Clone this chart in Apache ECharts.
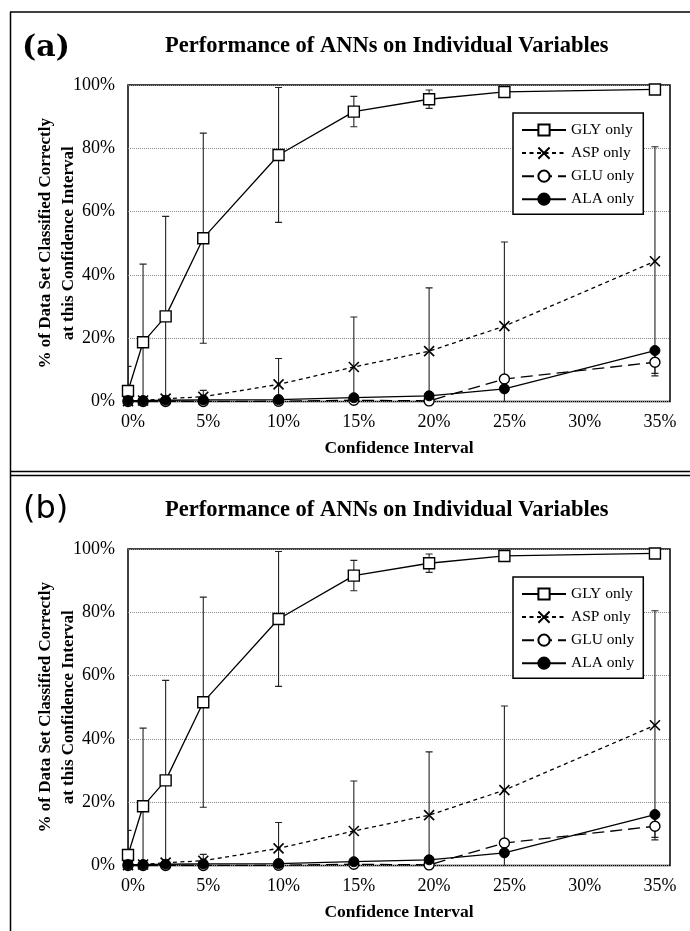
<!DOCTYPE html>
<html>
<head>
<meta charset="utf-8">
<script src="https://cdn.jsdelivr.net/npm/echarts@6/dist/echarts.min.js"></script>
<style>
  html, body { margin: 0; padding: 0; background: #fff; }
  #chart { width: 690px; height: 931px; }
</style>
</head>
<body>
<div id="chart"></div>
<script>
// Confidence interval (%) at which each data set was scored
const confidence = [0, 1, 2.5, 5, 10, 15, 20, 25, 35];

// % of data set classified correctly, per input variable
const glyOnly = [3.3, 18.7, 26.9, 51.6, 77.9, 91.6, 95.5, 97.8, 98.6];
const aspOnly = [0.1, 0.3, 0.9, 1.5, 5.4, 10.9, 15.9, 23.8, 44.3];
const gluOnly = [0.0, 0.0, 0.0, 0.0, 0.1, 0.4, 0.2, 7.1, 12.4];
const alaOnly = [0.3, 0.3, 0.4, 0.5, 0.6, 1.2, 1.8, 4.0, 16.1];

// symmetric error (± percentage points)
const glyErr = [7.8, 24.7, 31.6, 33.2, 21.3, 4.8, 2.9, 0, 0];
const aspErr = [0, 0, 0, 2.0, 8.2, 15.8, 20.0, 26.6, 36.2];
const gluErr = [0, 0, 0, 0, 0, 0, 0, 0, 3.5];
const alaErr = [0, 0, 0, 0, 0, 0, 0, 0, 0];

const yTicks = [0, 20, 40, 60, 80, 100];
const panelLabels = ['(a)', '(b)'];
const chartTitle = 'Performance of ANNs on Individual Variables';
const xTitle = 'Confidence Interval';
const yTitle = '% of Data Set Classified Correctly\nat this Confidence Interval';
const seriesNames = ['GLY only', 'ASP only', 'GLU only', 'ALA only'];

const SERIF = '"Liberation Serif", "Times New Roman", serif';
const chart = echarts.init(document.getElementById('chart'), null, { renderer: 'canvas' });

const seriesDefs = [
  { name: seriesNames[0], values: glyOnly, err: glyErr, symbol: 'rect', size: 11,
    item: { color: '#fff', borderColor: '#000', borderWidth: 1.4 }, dash: 'solid' },
  { name: seriesNames[1], values: aspOnly, err: aspErr, symbol: 'path://M0,0L10,10M10,0L0,10', size: 10,
    item: { color: 'none', borderColor: '#000', borderWidth: 1.6 }, dash: [4, 3.5] },
  { name: seriesNames[2], values: gluOnly, err: gluErr, symbol: 'circle', size: 10,
    item: { color: '#fff', borderColor: '#000', borderWidth: 1.4 }, dash: [12, 6] },
  { name: seriesNames[3], values: alaOnly, err: alaErr, symbol: 'circle', size: 10,
    item: { color: '#000', borderColor: '#000', borderWidth: 1 }, dash: 'solid' }
];

function errorBarItem(params, api) {
  const x = api.value(0);
  const hi = api.coord([x, api.value(2)]);
  const lo = api.coord([x, api.value(1)]);
  const cap = 3.5;
  const st = { stroke: '#222', lineWidth: 1.1 };
  return {
    type: 'group',
    children: [
      { type: 'line', shape: { x1: hi[0], y1: hi[1], x2: lo[0], y2: lo[1] }, style: st },
      { type: 'line', shape: { x1: hi[0] - cap, y1: hi[1], x2: hi[0] + cap, y2: hi[1] }, style: st },
      { type: 'line', shape: { x1: lo[0] - cap, y1: lo[1], x2: lo[0] + cap, y2: lo[1] }, style: st }
    ]
  };
}

const grids = [], xAxes = [], yAxes = [], series = [], legends = [], titles = [];
const panelShift = [0, 464];

panelShift.forEach((dy, p) => {
  grids.push({ left: 128, top: 85 + dy, width: 542, height: 316.5,
    show: true, borderColor: '#000', borderWidth: 1.5, backgroundColor: 'transparent' });

  xAxes.push({
    gridIndex: p, type: 'value', min: 0, max: 36, interval: 5,
    axisLine: { show: false }, axisTick: { show: false }, splitLine: { show: false },
    axisLabel: { showMaxLabel: false, margin: 12, padding: [0, 0, 0, 10],
      formatter: v => (v % 5 === 0 ? v + '%' : ''),
      fontFamily: SERIF, fontSize: 18, color: '#000' },
    name: xTitle, nameLocation: 'middle', nameGap: 38,
    nameTextStyle: { fontFamily: SERIF, fontWeight: 'bold', fontSize: 17.5, color: '#000' }
  });

  yAxes.push({
    gridIndex: p, type: 'value', min: yTicks[0], max: yTicks[yTicks.length - 1], interval: 20,
    axisLine: { show: false }, axisTick: { show: false },
    splitLine: { show: true, lineStyle: { color: '#8a8a8a', width: 1, type: [1, 1] } },
    axisLabel: { margin: 13, formatter: '{value}%', fontFamily: SERIF, fontSize: 18, color: '#000' },
    name: yTitle, nameLocation: 'middle', nameRotate: 90, nameGap: 48, nameMoveOverlap: false,
    nameTextStyle: { fontFamily: SERIF, fontWeight: 'bold', fontSize: 17, lineHeight: 23,
      color: '#000', align: 'center' }
  });

  seriesDefs.forEach(d => {
    const bars = [];
    confidence.forEach((c, i) => {
      if (d.err[i] > 0) bars.push([c, d.values[i] - d.err[i], d.values[i] + d.err[i]]);
    });
    if (bars.length) {
      series.push({
        name: d.name + ' error', type: 'custom', xAxisIndex: p, yAxisIndex: p,
        renderItem: errorBarItem, data: bars, clip: true, z: 1,
        encode: { x: 0, y: [1, 2] }, silent: true
      });
    }
  });

  seriesDefs.forEach(d => {
    series.push({
      name: d.name, type: 'line', xAxisIndex: p, yAxisIndex: p,
      data: confidence.map((c, i) => [c, d.values[i]]),
      symbol: d.symbol, symbolSize: d.size, showSymbol: true, showAllSymbol: true,
      lineStyle: { color: '#000', width: 1.3, type: d.dash },
      itemStyle: d.item, z: 3, animation: false
    });
  });

  legends.push({
    data: seriesNames, orient: 'vertical', left: 513, top: 113 + dy,
    itemWidth: 44, itemHeight: 14, itemGap: 7,
    padding: [9, 9, 7, 8], borderColor: '#000', borderWidth: 1.5, backgroundColor: '#fff',
    textStyle: { fontFamily: SERIF, fontSize: 15.5, color: '#000', lineHeight: 14 },
    selectedMode: false
  });

  titles.push({
    text: panelLabels[p], left: p === 0 ? 22 : 23, top: (p === 0 ? 33 : 30) + dy, padding: 0,
    textStyle: p === 0
      ? { fontFamily: '"DejaVu Serif", serif', fontWeight: 'bold', fontSize: 30, color: '#000' }
      : { fontFamily: '"DejaVu Sans", sans-serif', fontWeight: 'normal', fontSize: 32, color: '#000' }
  });
  titles.push({
    text: chartTitle, left: 165, top: 35 + dy, padding: 0,
    textStyle: { fontFamily: SERIF, fontWeight: 'bold', fontSize: 22.5, color: '#000' }
  });
});

chart.setOption({
  animation: false,
  backgroundColor: '#fff',
  title: titles,
  grid: grids,
  xAxis: xAxes,
  yAxis: yAxes,
  legend: legends,
  series: series,
  graphic: [
    { type: 'line', shape: { x1: 10.5, y1: 12, x2: 10.5, y2: 931 }, style: { stroke: '#000', lineWidth: 1.5 } },
    { type: 'line', shape: { x1: 10, y1: 12, x2: 690, y2: 12 }, style: { stroke: '#000', lineWidth: 1.5 } },
    { type: 'line', shape: { x1: 10, y1: 471.5, x2: 690, y2: 471.5 }, style: { stroke: '#000', lineWidth: 1.5 } },
    { type: 'line', shape: { x1: 10, y1: 475.5, x2: 690, y2: 475.5 }, style: { stroke: '#000', lineWidth: 1.5 } }
  ]
});
</script>
</body>
</html>
